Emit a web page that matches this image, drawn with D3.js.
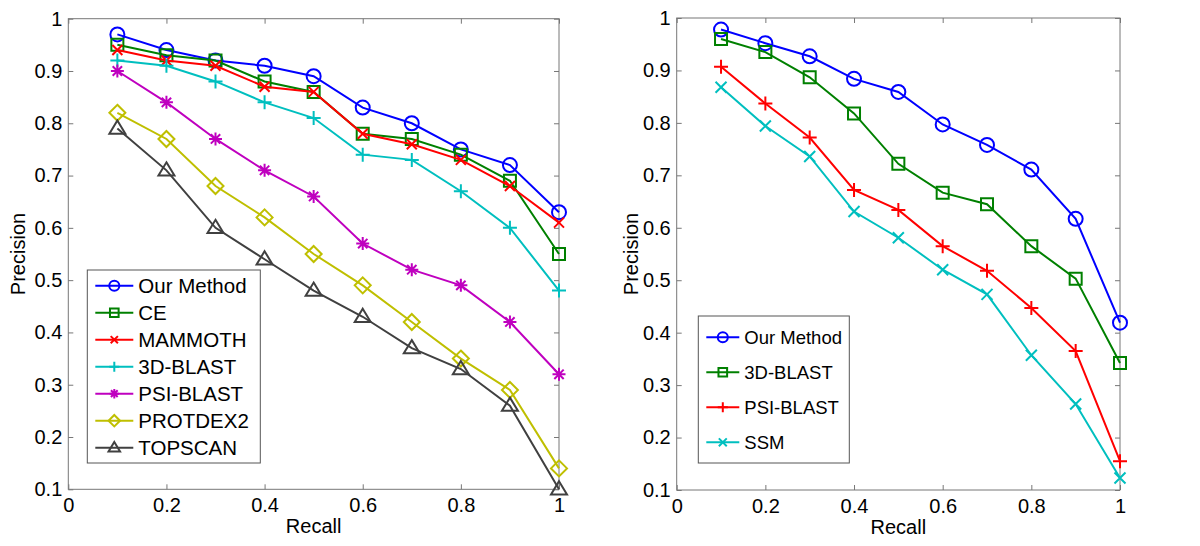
<!DOCTYPE html>
<html>
<head>
<meta charset="utf-8">
<script src="https://cdn.jsdelivr.net/npm/d3@7"></script>
<style>
  body { margin: 0; background: #fff; }
  svg { display: block; }
  text { font-family: "Liberation Sans", Arial, sans-serif; fill: #000; }
</style>
</head>
<body>
<svg id="chart" width="1200" height="546"></svg>
<script>
// recall levels shared by both panels
const recall = [0.1, 0.2, 0.3, 0.4, 0.5, 0.6, 0.7, 0.8, 0.9, 1.0];
const xTicks = [0, 0.2, 0.4, 0.6, 0.8, 1];
const yTicks = [0.1, 0.2, 0.3, 0.4, 0.5, 0.6, 0.7, 0.8, 0.9, 1];

// left panel series
const leftNames = ["Our Method", "CE", "MAMMOTH", "3D-BLAST", "PSI-BLAST", "PROTDEX2", "TOPSCAN"];
const leftOurMethod = [0.97, 0.94, 0.92, 0.91, 0.89, 0.83, 0.80, 0.75, 0.72, 0.63];
const leftCE        = [0.95, 0.93, 0.92, 0.88, 0.86, 0.78, 0.77, 0.74, 0.69, 0.55];
const leftMammoth   = [0.94, 0.92, 0.91, 0.87, 0.86, 0.78, 0.76, 0.73, 0.68, 0.61];
const left3DBlast   = [0.92, 0.91, 0.88, 0.84, 0.81, 0.74, 0.73, 0.67, 0.60, 0.48];
const leftPsiBlast  = [0.90, 0.84, 0.77, 0.71, 0.66, 0.57, 0.52, 0.49, 0.42, 0.32];
const leftProtdex2  = [0.82, 0.77, 0.68, 0.62, 0.55, 0.49, 0.42, 0.35, 0.29, 0.14];
const leftTopscan   = [0.79, 0.71, 0.60, 0.54, 0.48, 0.43, 0.37, 0.33, 0.26, 0.10];

// right panel series
const rightNames = ["Our Method", "3D-BLAST", "PSI-BLAST", "SSM"];
const rightOurMethod = [0.978, 0.952, 0.927, 0.884, 0.859, 0.797, 0.758, 0.711, 0.617, 0.419];
const right3DBlast   = [0.960, 0.935, 0.887, 0.818, 0.722, 0.667, 0.645, 0.565, 0.503, 0.342];
const rightPsiBlast  = [0.907, 0.837, 0.772, 0.672, 0.634, 0.565, 0.518, 0.447, 0.365, 0.155];
const rightSSM       = [0.868, 0.794, 0.736, 0.631, 0.581, 0.520, 0.473, 0.357, 0.264, 0.123];

// MATLAB-ish marker shapes, centred on 0,0
function markerPath(type, s) {
  let p = d3.path();
  if (type === "o") {
    p.moveTo(s, 0); p.arc(0, 0, s, 0, 2 * Math.PI);
  } else if (type === "s") {
    p.rect(-s, -s, 2 * s, 2 * s);
  } else if (type === "x") {
    p.moveTo(-s, -s); p.lineTo(s, s); p.moveTo(-s, s); p.lineTo(s, -s);
  } else if (type === "+") {
    p.moveTo(-s, 0); p.lineTo(s, 0); p.moveTo(0, -s); p.lineTo(0, s);
  } else if (type === "*") {
    let k = s * 0.72;
    p.moveTo(-s, 0); p.lineTo(s, 0); p.moveTo(0, -s); p.lineTo(0, s);
    p.moveTo(-k, -k); p.lineTo(k, k); p.moveTo(-k, k); p.lineTo(k, -k);
  } else if (type === "d") {
    p.moveTo(0, -s); p.lineTo(s, 0); p.lineTo(0, s); p.lineTo(-s, 0); p.closePath();
  } else if (type === "^") {
    p.moveTo(0, -s); p.lineTo(s, s * 0.65); p.lineTo(-s, s * 0.65); p.closePath();
  }
  return p.toString();
}

const svg = d3.select("#chart");

function drawPanel(cfg) {
  let x = d3.scaleLinear().domain([0, 1]).range([cfg.left, cfg.right]);
  let y = d3.scaleLinear().domain([0.1, 1]).range([cfg.bottom, cfg.top]);
  let g = svg.append("g");

  let axisColor = "#777";
  let bottom = g.append("g").attr("transform", `translate(0, ${cfg.bottom})`)
    .call(d3.axisBottom(x).tickValues(xTicks).tickSize(-5).tickPadding(9).tickFormat(d => String(d)));
  let leftAx = g.append("g").attr("transform", `translate(${cfg.left}, 0)`)
    .call(d3.axisLeft(y).tickValues(yTicks).tickSize(-5).tickPadding(6).tickFormat(d => String(d)));
  let top = g.append("g").attr("transform", `translate(0, ${cfg.top})`)
    .call(d3.axisTop(x).tickValues(xTicks).tickSize(-5).tickFormat(""));
  let rightAx = g.append("g").attr("transform", `translate(${cfg.right}, 0)`)
    .call(d3.axisRight(y).tickValues(yTicks).tickSize(-5).tickFormat(""));

  [bottom, leftAx, top, rightAx].forEach(a => {
    a.select(".domain").remove();
    a.selectAll("line").attr("stroke", axisColor).attr("stroke-width", 1);
    a.selectAll("text").attr("font-size", cfg.tickFont).attr("fill", "#000")
      .attr("font-family", "Liberation Sans, Arial, sans-serif");
  });

  g.append("rect")
    .attr("x", cfg.left).attr("y", cfg.top)
    .attr("width", cfg.right - cfg.left).attr("height", cfg.bottom - cfg.top)
    .attr("fill", "none").attr("stroke", axisColor).attr("stroke-width", 1);

  // axis labels
  g.append("text")
    .attr("x", (cfg.left + cfg.right) / 2).attr("y", cfg.bottom + 44)
    .attr("text-anchor", "middle").attr("font-size", 20)
    .text("Recall");
  g.append("text")
    .attr("transform", `translate(${cfg.left - cfg.yLabelGap}, ${(cfg.top + cfg.bottom) / 2}) rotate(-90)`)
    .attr("text-anchor", "middle").attr("font-size", 20)
    .text("Precision");

  let line = d3.line().x((d, i) => x(recall[i])).y(d => y(d));

  cfg.series.forEach(s => {
    g.append("path")
      .datum(s.values)
      .attr("d", line)
      .attr("fill", "none")
      .attr("stroke", s.color)
      .attr("stroke-width", 2);

    g.selectAll(null)
      .data(s.values)
      .enter()
      .append("path")
      .attr("transform", (d, i) => `translate(${x(recall[i])}, ${y(d)})`)
      .attr("d", markerPath(s.marker, s.size))
      .attr("fill", "none")
      .attr("stroke", s.color)
      .attr("stroke-width", 2);
  });

  // legend
  let lg = cfg.legend;
  g.append("rect")
    .attr("x", lg.x).attr("y", lg.y)
    .attr("width", lg.w).attr("height", lg.h)
    .attr("fill", "#fff").attr("stroke", "#555").attr("stroke-width", 1);

  cfg.series.forEach((s, i) => {
    let yy = lg.firstY + i * lg.step;
    let x1 = lg.x + 8, x2 = x1 + lg.lineLen;
    g.append("line")
      .attr("x1", x1).attr("x2", x2)
      .attr("y1", yy).attr("y2", yy)
      .attr("stroke", s.color).attr("stroke-width", 2);
    g.append("path")
      .attr("transform", `translate(${(x1 + x2) / 2}, ${yy})`)
      .attr("d", markerPath(s.marker, s.size * 0.72))
      .attr("fill", "none").attr("stroke", s.color).attr("stroke-width", 2);
    g.append("text")
      .attr("x", x2 + 5).attr("y", yy)
      .attr("dy", "0.36em")
      .attr("font-size", lg.font)
      .text(s.name);
  });
}

drawPanel({
  left: 68.3, right: 559, top: 18.7, bottom: 489.3, tickFont: 20, yLabelGap: 43,
  series: [
    {name: leftNames[0], values: leftOurMethod, color: "#0000ff", marker: "o", size: 7},
    {name: leftNames[1], values: leftCE,        color: "#008000", marker: "s", size: 6},
    {name: leftNames[2], values: leftMammoth,   color: "#ff0000", marker: "x", size: 5},
    {name: leftNames[3], values: left3DBlast,   color: "#00bfbf", marker: "+", size: 7},
    {name: leftNames[4], values: leftPsiBlast,  color: "#bf00bf", marker: "*", size: 6.5},
    {name: leftNames[5], values: leftProtdex2,  color: "#bfbf00", marker: "d", size: 8},
    {name: leftNames[6], values: leftTopscan,   color: "#404040", marker: "^", size: 8}
  ],
  legend: {x: 87.3, y: 270, w: 173, h: 193, firstY: 285.7, step: 27, font: 20.5, lineLen: 38}
});

drawPanel({
  left: 676.7, right: 1120, top: 18, bottom: 490, tickFont: 20, yLabelGap: 39,
  series: [
    {name: rightNames[0], values: rightOurMethod, color: "#0000ff", marker: "o", size: 7},
    {name: rightNames[1], values: right3DBlast,   color: "#008000", marker: "s", size: 6},
    {name: rightNames[2], values: rightPsiBlast,  color: "#ff0000", marker: "+", size: 7},
    {name: rightNames[3], values: rightSSM,       color: "#00bfbf", marker: "x", size: 5.5}
  ],
  legend: {x: 698.3, y: 316, w: 151, h: 147, firstY: 337.3, step: 35, font: 18.5, lineLen: 33}
});
</script>
</body>
</html>
